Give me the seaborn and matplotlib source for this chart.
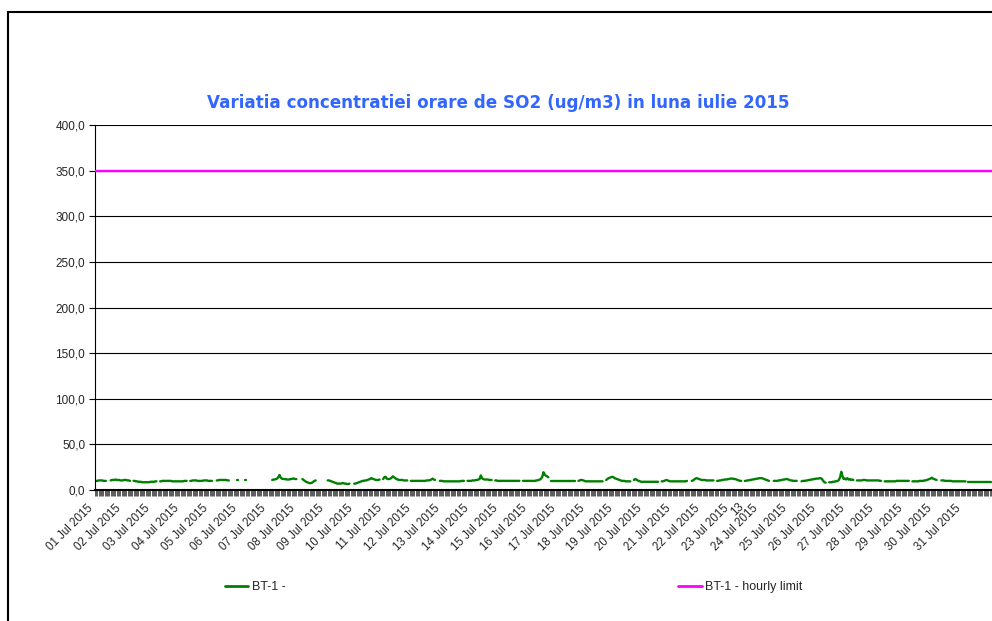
import numpy as np
import pandas as pd
import matplotlib
matplotlib.use('Agg')
import matplotlib.pyplot as plt
from matplotlib.lines import Line2D
from matplotlib.patches import Rectangle
from matplotlib.ticker import MultipleLocator, FixedLocator, FuncFormatter
import seaborn as sns

# Hourly SO2 values (ug/m3), one list per day of July 2015, nan = missing hour
n = np.nan
d01 = [9.5, 10, 10, 10.5, 10.5, 10.5, 10.5, 10, 10, 10, n, n, n, 10.5, 11, 11, 11, 11.5, 11, 11, 11, 10.5, 10.5, 10.5]
d02 = [11, 11, 11, 10.5, 10.5, 10, n, n, 10, 10, 9.5, 9.5, 9, 9, 9, 8.5, 8.5, 8.5, 8.5, 8.5, 8.5, 8.5, 9, 9]
d03 = [9, 9, 9.5, 9.5, n, n, 9.5, 9.5, 10, 10, 10, 10, 10, 10, 10, 10, 9.5, 9.5, 9.5, 9.5, 9.5, 9.5, 9.5, 9.5]
d04 = [9.5, 9.5, 10, 10, 10, n, n, 10, 10, 10.5, 10.5, 10.5, 10.5, 10, 10, 10, 10, 10, 10.5, 10.5, 10.5, 10.5, 10, 10]
d05 = [10, 10, n, n, n, 10.5, 10.5, 11, 11, 11, 11, 11, 11, 11, 10.5, 10.5, n, n, n, n, n, n, 11, 11]
d06 = [n, n, n, n, 10.5, 10.5, n, n, n, n, n, n, n, n, n, n, n, n, n, n, n, n, n, n]
d07 = [n, n, n, 11, 11.5, 11.5, 12, 12.5, 14, 16.5, 13.5, 12.5, 12, 12, 12, 11.5, 11.5, 11.5, 12, 12, 12.5, 12.5, 12, 12]
d08 = [n, n, n, n, 12, 11, 10, 9, 8.5, 8, 7.5, 7.5, 8, 9, 10, 10.5, n, n, n, n, n, n, n, n]
d09 = [n, 10.5, 10.5, 10, 9.5, 9, 8.5, 8, 7.5, 7, 7, 7, 7, 7.5, 7.5, 7, 7, 6.5, 6.5, 7, n, n, n, 7]
d10 = [7, 7.5, 8, 8.5, 9, 9.5, 10, 10, 10.5, 10.5, 11, 11.5, 12, 13, 12.5, 12, 11.5, 11, 11, 11, 11.5, n, n, 12]
d11 = [14, 14.5, 12.5, 12, 12, 12.5, 13.5, 15, 14, 13, 12, 11.5, 11, 11, 11, 11, 10.5, 10.5, 10.5, 10.5, n, n, 10, 10]
d12 = [10, 10, 10, 10, 10, 10, 10, 10, 10, 10, 10, 10.5, 10.5, 10.5, 11, 11.5, 12.5, 11.5, 11, n, n, n, 10, 10]
d13 = [10, 9.5, 9.5, 9.5, 9.5, 9.5, 9.5, 9.5, 9.5, 9.5, 9.5, 9.5, 9.5, 9.5, 9.5, 9.5, 10, 10, 10, n, n, 10, 10, 10]
d14 = [10, 10.5, 10.5, 10.5, 11, 11, 11.5, 12, 16, 13, 12, 11.5, 11.5, 11.5, 11.5, 11, 11, 11, n, n, 10.5, 10.5, 10, 10]
d15 = [10, 10, 10, 10, 10, 10, 10, 10, 10, 10, 10, 10, 10, 10, 10, 10, 10, n, n, 10, 10, 10, 10, 10]
d16 = [10, 10, 10, 10, 10, 10, 10.5, 10.5, 11, 11.5, 12.5, 14.5, 19.5, 17, 15.5, 15, 14, n, 10, 10, 10, 10, 10, 10]
d17 = [10, 10, 10, 10, 10, 10, 10, 10, 10, 10, 10, 10, 10, 10, 10, n, n, 10, 10.5, 11, 11, 10.5, 10, 9.5]
d18 = [9.5, 9.5, 9.5, 9.5, 9.5, 9.5, 9.5, 9.5, 9.5, 9.5, 9.5, 9.5, 9.5, 9.5, n, n, 11, 12, 13, 13.5, 14, 14.5, 14, 13]
d19 = [12.5, 12, 11.5, 11, 10.5, 10, 10, 10, 9.5, 9.5, 9.5, 9.5, 9.5, n, n, 11, 12, 11.5, 10.5, 10, 9.5, 9, 9, 9]
d20 = [9, 9, 9, 9, 9, 9, 9, 9, 9, 9, 9, 9, n, n, 9.5, 9.5, 10, 10.5, 11, 10.5, 10, 9.5, 9.5, 9.5]
d21 = [9.5, 9.5, 9.5, 9.5, 9.5, 9.5, 9.5, 9.5, 9.5, 9.5, 9.5, 10, n, n, n, 10, 10.5, 11.5, 12.5, 13, 12.5, 12, 11.5, 11]
d22 = [11, 11, 11, 10.5, 10.5, 10.5, 10.5, 10.5, 10.5, 10.5, n, n, 10, 10, 10.5, 10.5, 11, 11, 11.5, 11.5, 11.5, 12, 12, 12.5]
d23 = [12.5, 12.5, 12, 12, 11.5, 11, 10.5, 10, 10, n, n, 10, 10, 10.5, 10.5, 11, 11, 11.5, 11.5, 12, 12, 12.5, 12.5, 13]
d24 = [13, 13, 12.5, 12, 11.5, 11, 10.5, 10, n, n, n, 10, 10, 10, 10, 10.5, 10.5, 11, 11, 11.5, 11.5, 12, 12, 11.5]
d25 = [11, 10.5, 10.5, 10, 10, 10, 10, n, n, n, 9.5, 10, 10, 10, 10.5, 10.5, 11, 11, 11.5, 11.5, 12, 12, 12.5, 12.5]
d26 = [12.5, 13, 13, 12, 10, 8.5, 8, n, n, 8.5, 8.5, 8.5, 9, 9, 9.5, 9.5, 10, 11, 14, 20, 15, 12, 12.5, 11.5]
d27 = [13, 11.5, 12, 11, 11.5, 11, n, n, 10.5, 10.5, 10.5, 10.5, 10.5, 11, 11, 11, 10.5, 10.5, 10.5, 10.5, 10.5, 10.5, 10.5, 10.5]
d28 = [10.5, 10.5, 10.5, 10, 10, n, n, 9.5, 9.5, 9.5, 9.5, 9.5, 9.5, 9.5, 9.5, 9.5, 9.5, 10, 10, 10, 10, 10, 10, 10]
d29 = [10, 10, 10, 10, n, n, 9.5, 9.5, 9.5, 9.5, 9.5, 9.5, 10, 10, 10, 10, 10.5, 10.5, 11, 11.5, 12, 12.5, 13.5, 12.5]
d30 = [12, 11.5, 11, n, n, n, 10.5, 10.5, 10.5, 10, 10, 10, 10, 10, 10, 9.5, 9.5, 9.5, 9.5, 9.5, 9.5, 9.5, 9.5, 9.5]
d31 = [9.5, 9.5, 9.5, n, 9, 9, 9, 9, 9, 9, 9, 9, 9, 9, 9, 9, 9, 9, 9, 9, 9, 9, 9, 9]

days = [d01, d02, d03, d04, d05, d06, d07, d08, d09, d10, d11, d12, d13, d14, d15, d16,
        d17, d18, d19, d20, d21, d22, d23, d24, d25, d26, d27, d28, d29, d30, d31]
day_labels = ['%02d Jul 2015' % d for d in range(1, 32)]
hourly_limit = 350

so2 = np.concatenate([np.array(d, dtype=float) for d in days])
df = pd.DataFrame({'t': np.arange(len(so2)) / 24.0, 'so2': so2})
df['seg'] = np.cumsum(df['so2'].isna())   # break the line at missing hours
df = df.dropna()

sns.set_style('white')
plt.rcParams['font.family'] = ['Liberation Sans', 'DejaVu Sans']

fig = plt.figure(figsize=(9.92, 6.21), dpi=100)
ax = fig.add_axes([95 / 992, 1 - 490 / 621, 1 - 95 / 992, (490 - 125) / 621])

sns.lineplot(data=df, x='t', y='so2', units='seg', estimator=None,
             color='#008000', lw=1.7, ax=ax, legend=False)
ax.axhline(hourly_limit, color='#FF00FF', lw=1.7, zorder=3)

ax.set_xlim(0, 31)
ax.set_ylim(0, 400)
ax.yaxis.set_major_locator(MultipleLocator(50))
ax.yaxis.set_major_formatter(FuncFormatter(lambda v, p: ('%.1f' % v).replace('.', ',')))
ax.grid(axis='y', color='black', lw=0.8)
ax.grid(axis='x', visible=False)

ax.xaxis.set_major_locator(FixedLocator(range(31)))
ax.set_xticklabels(day_labels, rotation=45, ha='right', va='bottom',
                   rotation_mode='anchor', fontsize=8.3)
ax.xaxis.set_minor_locator(MultipleLocator(1 / 24))
ax.tick_params(axis='x', which='both', direction='out', length=4, width=0.45, color='black', bottom=True, pad=11)
ax.tick_params(axis='y', which='major', direction='out', length=4, width=0.8, color='black', left=True, labelsize=8.5, pad=3)
ax.set_xlabel('')
ax.set_ylabel('')

for side in ['top', 'right']:
    ax.spines[side].set_visible(False)
ax.spines['left'].set_color('black')
ax.spines['bottom'].set_color('black')
ax.spines['bottom'].set_linewidth(1.5)

# stray label fragment next to 23 Jul
ax.annotate('13', xy=(22, 0), xycoords=('data', 'axes fraction'), xytext=(4, -14),
            textcoords='offset points', fontsize=8.3, rotation=45, ha='center', va='center')

fig.text(0.502, 1 - 103 / 621, 'Variatia concentratiei orare de SO2 (ug/m3) in luna iulie 2015',
         ha='center', va='center', fontsize=12.1, fontweight='bold', color='#3366FF',
         family='DejaVu Sans')

handles = [Line2D([], [], color='#008000', lw=2), Line2D([], [], color='#FF00FF', lw=2)]
fig.legend(handles, ['BT-1 -', 'BT-1 - hourly limit'], loc='center', ncol=2,
           bbox_to_anchor=(514 / 992, 1 - 587 / 621), frameon=False, fontsize=9,
           handlelength=1.85, handletextpad=0.3, columnspacing=31.4)

fig.add_artist(Rectangle((8 / 992, -0.1), 1.2, 1 - 12 / 621 + 0.1, transform=fig.transFigure,
                         fill=False, edgecolor='black', lw=1.5))

fig.savefig('out.png', dpi=100)
